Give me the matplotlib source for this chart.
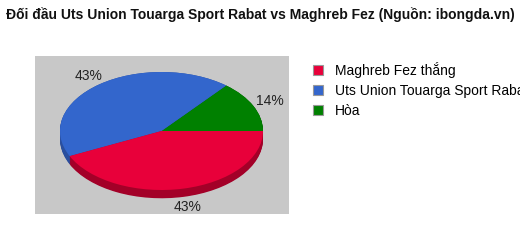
import matplotlib
matplotlib.use("Agg")
import matplotlib.pyplot as plt
import numpy as np
from matplotlib.patches import Patch

plt.rcParams["font.family"] = ["Liberation Sans", "DejaVu Sans"]

title = "Đối đầu Uts Union Touarga Sport Rabat vs Maghreb Fez (Nguồn: ibongda.vn)"
labels = ["Hòa", "Uts Union Touarga Sport Rabat", "Maghreb Fez thắng"]
values = [14, 43, 43]
pct_text = ["14%", "43%", "43%"]
top_colors = ["#008000", "#3366CC", "#E8003A"]
side_colors = ["#005800", "#2A4F9E", "#A30028"]
legend_order = [2, 1, 0]

W, H = 520, 250
fig = plt.figure(figsize=(W / 100, H / 100), dpi=100)


def px_axes(x0, y0, x1, y1):
    # pixel box measured from the top-left corner
    return fig.add_axes([x0 / W, 1 - y1 / H, (x1 - x0) / W, (y1 - y0) / H])


# grey plot panel
bg = px_axes(35, 56, 289, 214)
bg.set_facecolor("#C8C8C8")
bg.set_xticks([])
bg.set_yticks([])
for s in bg.spines.values():
    s.set_visible(False)

# pie axes: unit circle -> ellipse
depth = 0.14
ax = px_axes(60, 72, 263, 72 + 59 * (2 + 0.4))

for step in np.linspace(depth, 0, 12):
    ax.pie(values, colors=side_colors, startangle=0, counterclock=True,
           center=(0, -step), radius=1, wedgeprops=dict(linewidth=0))
ax.pie(values, colors=top_colors, startangle=0, counterclock=True,
       center=(0, 0), radius=1, wedgeprops=dict(linewidth=0))
ax.set_aspect("auto")
ax.set_xlim(-1, 1)
ax.set_ylim(-1.4, 1)
ax.axis("off")

# percentage labels
start = 0.0
total = sum(values)
for v, txt in zip(values, pct_text):
    mid = np.deg2rad(start + 360 * v / total / 2)
    start += 360 * v / total
    x = 1.18 * np.cos(mid)
    y = 1.18 * np.sin(mid)
    if y < 0:
        y -= depth
    ax.text(x, y, txt, ha="center", va="center", fontsize=10, color="#222222")

fig.text(0.5, 1 - 15 / H, title, ha="center", va="center",
         fontsize=10, fontweight="bold", color="#111111")

handles = [Patch(facecolor=top_colors[i], edgecolor="#999999", linewidth=0.8)
           for i in legend_order]
fig.legend(handles, [labels[i] for i in legend_order],
           loc="upper left", bbox_to_anchor=(313 / W, 1 - 62 / H),
           frameon=False, fontsize=10, borderpad=0, borderaxespad=0,
           handlelength=0.75, handleheight=0.75, handletextpad=0.8,
           labelspacing=0.42)

fig.savefig("out.png", dpi=100)
